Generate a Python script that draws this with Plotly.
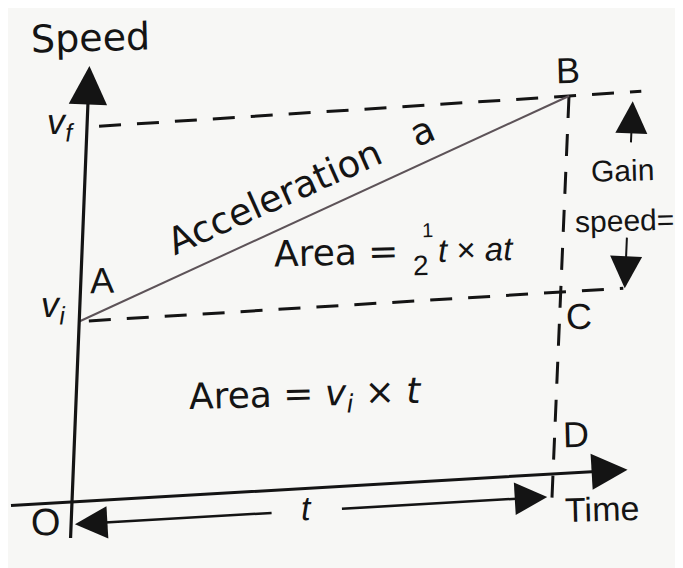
import plotly.graph_objects as go

# values (time in s, speed in m/s, arbitrary units)
T_END = 10.0            # time t at C / D
V_I = 3.85              # initial speed v_i at A
V_F = 8.0               # final speed v_f at B
TIME_AXIS = [-1.3, 11.55]
SPEED_AXIS = [-0.8, 9.3]
AB_TIME = [0.0, T_END]
AB_SPEED = [V_I, V_F]

INK = '#141414'
BG = '#f7f7f5'
SANS = 'Liberation Sans, Arial, sans-serif'
WIDE = 'DejaVu Sans, sans-serif'
DASH = '22px,16px'

# the photographed grid is slightly skewed: pixel spots of O, D, v_f on speed axis, B
CORNER_O = (72, 502)
CORNER_D = (553, 474)
CORNER_VF = (87, 127)
CORNER_B = (569, 96)
# the page body has an 8px margin, so the plot window is shifted by that much
PAGE_OFFSET = 8


def to_px(t, v):
    s = t / T_END
    r = v / V_F
    x = ((1 - s) * (1 - r) * CORNER_O[0] + s * (1 - r) * CORNER_D[0]
         + (1 - s) * r * CORNER_VF[0] + s * r * CORNER_B[0])
    y = ((1 - s) * (1 - r) * CORNER_O[1] + s * (1 - r) * CORNER_D[1]
         + (1 - s) * r * CORNER_VF[1] + s * r * CORNER_B[1])
    return x, y


fig = go.Figure()


def add_line(ts, vs, width=3, dash='solid', color=INK):
    pts = [to_px(t, v) for t, v in zip(ts, vs)]
    fig.add_trace(go.Scatter(x=[p[0] for p in pts], y=[p[1] for p in pts],
                             mode='lines', hoverinfo='skip', showlegend=False,
                             line=dict(color=color, width=width, dash=dash)))


def add_arrow(t0, v0, t1, v1, width=3, size=2.0, color=INK):
    x0, y0 = to_px(t0, v0)
    x1, y1 = to_px(t1, v1)
    fig.add_annotation(x=x1, y=y1, ax=x0, ay=y0, xref='x', yref='y',
                       axref='x', ayref='y', text='', showarrow=True,
                       arrowhead=2, arrowsize=size, arrowwidth=width,
                       arrowcolor=color)


def add_label(text, t, v, size=36, family=SANS, angle=-1.5, xanchor='center'):
    x, y = to_px(t, v)
    fig.add_annotation(x=x, y=y, text=text, showarrow=False, textangle=angle,
                       xanchor=xanchor, yanchor='middle',
                       font=dict(family=family, size=size, color=INK))


# axes
add_arrow(TIME_AXIS[0], 0, TIME_AXIS[1], 0, width=3, size=2.4)
add_arrow(0, SPEED_AXIS[0], 0, SPEED_AXIS[1], width=3.2, size=2.4)

# dashed guide lines
add_line([0.25, 11.5], [V_F, V_F], dash=DASH)
add_line([0.2, 11.3], [V_I, V_I], dash=DASH)
add_line([T_END, T_END], [V_F, -0.55], dash=DASH)

# A -> B
add_line(AB_TIME, AB_SPEED, width=2, color='#5d5358')

# gain in speed arrows
add_arrow(11.33, 6.9, 11.33, 7.8, width=2, size=3.2)
add_arrow(11.33, 4.95, 11.33, V_I, width=2, size=3.2)

# interval t
add_arrow(4.2, -0.48, 0.08, -0.48, width=2.5, size=2.6)
add_arrow(5.6, -0.48, 9.9, -0.48, width=2.5, size=2.6)

# labels
add_label('Speed', 0, 9.9, size=38, family=WIDE)
add_label('<i>v</i><sub><i>f</i></sub>', -0.55, 8.1)
add_label('<i>v</i><sub><i>i</i></sub>', -0.55, 4.2)
add_label('A', 0.45, 4.7)
add_label('B', 9.95, 8.55)
add_label('C', 10.4, 3.3)
add_label('D', 10.45, 0.8)
add_label('O', -0.52, -0.4, size=38)
add_label('Time', 11.05, -0.8, size=34)
add_label('<i>t</i>', 4.9, -0.42, size=34)
add_label('Gain', 10.48, 6.4, size=30, xanchor='left')
add_label('speed=', 10.19, 5.36, size=30, xanchor='left')
add_label('Acceleration&nbsp;&nbsp;&nbsp;a', 4.5, 6.47, size=37, family=WIDE, angle=-24)
add_label('Area =', 6.63, 4.9, size=36, family=WIDE, xanchor='right')
add_label('1', 7.17, 5.35, size=20)
add_label('2', 7.07, 4.6, size=28)
add_label('<i>t</i> × <i>at</i>', 7.36, 4.92, size=33, xanchor='left')
add_label('Area = <i>v</i><sub><i>i</i></sub> × <i>t</i>', 4.77, 1.95, size=36, family=WIDE)

fig.update_layout(
    width=683, height=568,
    margin=dict(l=0, r=0, t=0, b=0),
    paper_bgcolor=BG, plot_bgcolor=BG,
    xaxis=dict(range=[PAGE_OFFSET, 683 + PAGE_OFFSET], visible=False, fixedrange=True),
    yaxis=dict(range=[568 + PAGE_OFFSET, PAGE_OFFSET], visible=False, fixedrange=True),
    showlegend=False,
)

fig.write_html("out.html")
